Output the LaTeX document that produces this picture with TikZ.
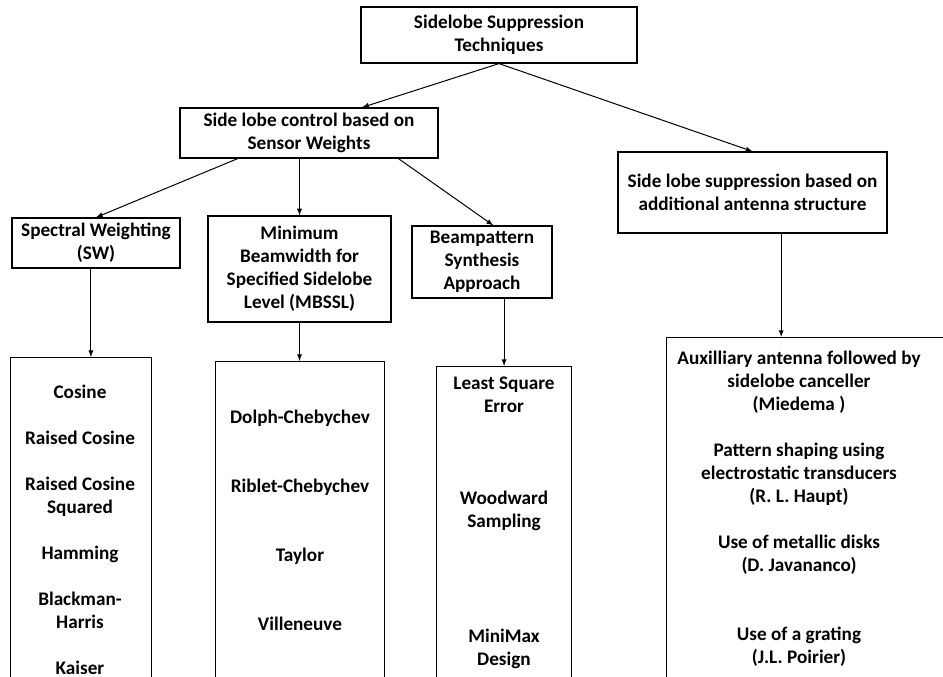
\documentclass[tikz,border=0pt]{standalone}
\usepackage{fontspec}
\setmainfont{Carlito}
\usetikzlibrary{shapes.geometric, arrows, calc}

\tikzset{
  box/.style={draw, line width=0.9pt, align=center, inner sep=0.75pt, font=\fontsize{14.4}{17.25}\selectfont\bfseries},
  listbox/.style={draw, line width=0.9pt, inner sep=0pt, anchor=north west},
  items/.style={align=center, inner sep=0.75pt, font=\fontsize{14.4}{17.25}\selectfont\bfseries},
  link/.style={-latex, line width=0.75pt},
}

\begin{document}
\begin{tikzpicture}[x=0.75pt,y=0.75pt,yscale=-1,xscale=1]
\clip (0,0) rectangle (943,677);
\useasboundingbox (0,0) rectangle (943,677);

%Shape: Rectangle [id:top]
\node [box, minimum width=207pt, minimum height=42pt] (top) at (499,35) {Sidelobe Suppression\\Techniques};
%Shape: Rectangle [id:sensor]
\node [box, minimum width=193.5pt, minimum height=37.5pt] (sensor) at (309,133) {Side lobe control based on\\Sensor Weights};
%Shape: Rectangle [id:antenna]
\node [box, minimum width=201.75pt, minimum height=60.75pt] (antenna) at (752.5,192.5) {Side lobe suppression based on\\additional antenna structure};
%Shape: Rectangle [id:sw]
\node [box, minimum width=126pt, minimum height=37.5pt] (sw) at (96,243) {Spectral Weighting\\(SW)};
%Shape: Rectangle [id:mbssl]
\node [box, minimum width=137.25pt, minimum height=79.5pt] (mbssl) at (299.5,269) {Minimum\\Beamwidth for\\Specified Sidelobe\\Level (MBSSL)};
%Shape: Rectangle [id:beam]
\node [box, minimum width=105pt, minimum height=54pt] (beam) at (482,262) {Beampattern\\Synthesis\\Approach};

%Shape: Rectangle [id:swlist]
\node [listbox, minimum width=105.75pt, minimum height=257.25pt] (swlist) at (10,357) {};
%Shape: Rectangle [id:mlist]
\node [listbox, minimum width=126.75pt, minimum height=255pt] (mlist) at (215,361) {};
%Shape: Rectangle [id:blist]
\node [listbox, minimum width=101.25pt, minimum height=251.25pt] (blist) at (436,366) {};
%Shape: Rectangle [id:alist]
\node [listbox, minimum width=240pt, minimum height=273pt] (alist) at (666,337) {};

% Text Node
\node [items] (switems) at (80,529.5) {Cosine\\[17.25pt]Raised Cosine\\[17.25pt]Raised Cosine\\Squared\\[17.25pt]Hamming\\[17.25pt]Blackman-\\Harris\\[17.25pt]Kaiser};
% Text Node
\node [items] (mitems) at (300,520.5) {Dolph-Chebychev\\[34.5pt]Riblet-Chebychev\\[34.5pt]Taylor\\[34.5pt]Villeneuve};
% Text Node
\node [items] (bitems) at (504,522.5) {Least Square\\Error\\[51.75pt]Woodward\\Sampling\\[69pt]MiniMax\\Design};
% Text Node
\node [items] (aitems) at (799,509) {Auxilliary antenna followed by\\sidelobe canceller\\(Miedema )\\[17.25pt]Pattern shaping using\\electrostatic transducers\\(R. L. Haupt)\\[17.25pt]Use of metallic disks\\(D. Javananco)\\[34.5pt]Use of a grating\\(J.L. Poirier)};

%Straight Lines
\draw [link] (top.south) -- ($(sensor.north west)!0.705!(sensor.north east)$);
\draw [link] (top.south) -- (antenna.north);
\draw [link] ($(sensor.south west)!0.225!(sensor.south east)$) -- (sw.north);
\draw [link] (sensor.south -| mbssl.north) -- (mbssl.north);
\draw [link] ($(sensor.south west)!0.845!(sensor.south east)$) -- ($(beam.north west)!0.58!(beam.north east)$);
\draw [link] ($(sw.south west)!0.47!(sw.south east)$) coordinate (swdrop) -- (swdrop |- swlist.north);
\draw [link] (mbssl.south) -- (mbssl.south |- mlist.north);
\draw [link] (blist.north |- beam.south) -- (blist.north);
\draw [link] ($(antenna.south west)!0.606!(antenna.south east)$) coordinate (adrop) -- (adrop |- alist.north);

\end{tikzpicture}
\end{document}
